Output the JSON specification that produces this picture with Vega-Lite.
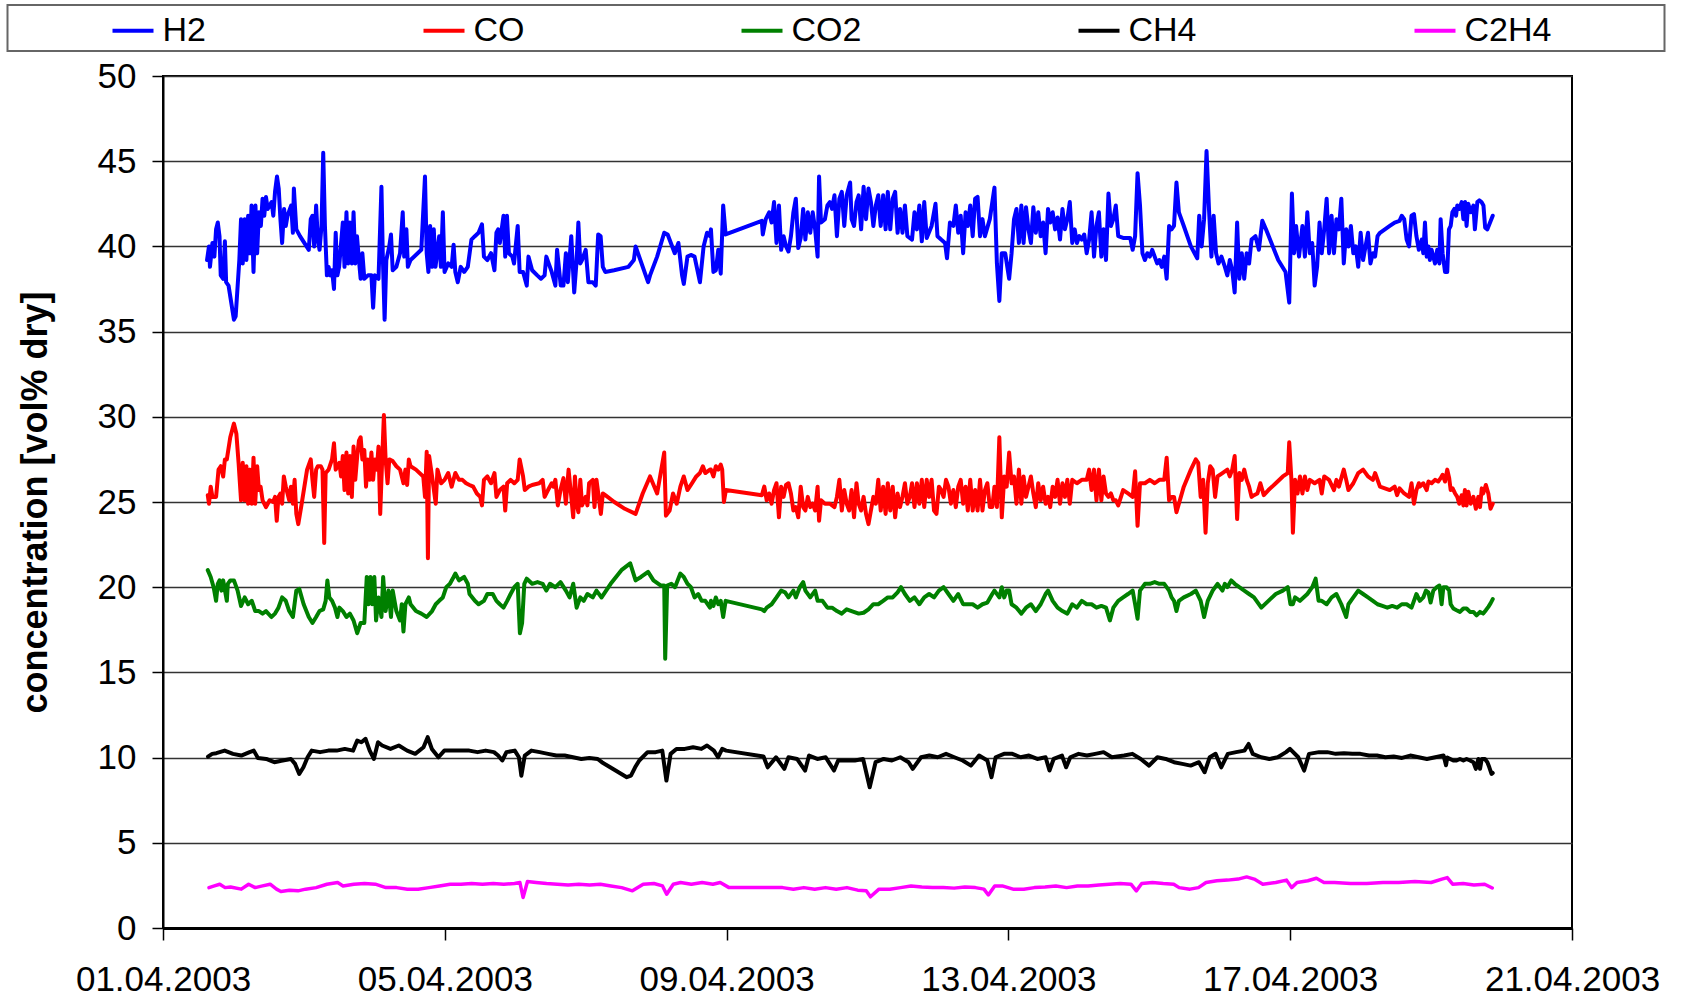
{
"$schema":"https://vega.github.io/schema/vega-lite/v6.json",
"width":1409,"height":852,
"autosize":{"type":"none"},
"padding":{"left":163,"top":76,"right":109,"bottom":74},
"background":"white",
"config":{"view":{"stroke":"black","strokeWidth":2},"font":"Liberation Sans","legend":{"strokeWidth":2}},
"datasets":{
"H2":[
{"t":"2003-04-01T15:00","v":39.2},{"t":"2003-04-01T15:40","v":40.0},{"t":"2003-04-01T16:00","v":38.8},{"t":"2003-04-01T16:50","v":40.2},{"t":"2003-04-01T17:30","v":39.4},{"t":"2003-04-01T18:05","v":41.0},{"t":"2003-04-01T18:40","v":41.4},{"t":"2003-04-01T19:15","v":40.6},{"t":"2003-04-01T19:40","v":38.3},{"t":"2003-04-01T20:30","v":38.1},{"t":"2003-04-01T21:05","v":40.3},{"t":"2003-04-01T21:30","v":37.9},{"t":"2003-04-01T22:20","v":37.7},{"t":"2003-04-02T00:10","v":35.7},{"t":"2003-04-02T00:45","v":35.9},{"t":"2003-04-02T02:00","v":39.2},{"t":"2003-04-02T02:35","v":41.6},{"t":"2003-04-02T03:10","v":39.0},{"t":"2003-04-02T03:50","v":41.6},{"t":"2003-04-02T04:25","v":39.2},{"t":"2003-04-02T05:00","v":41.8},{"t":"2003-04-02T05:35","v":39.6},{"t":"2003-04-02T06:10","v":42.4},{"t":"2003-04-02T06:50","v":38.5},{"t":"2003-04-02T07:30","v":42.4},{"t":"2003-04-02T08:05","v":39.6},{"t":"2003-04-02T08:40","v":42.0},{"t":"2003-04-02T09:20","v":41.2},{"t":"2003-04-02T09:55","v":42.8},{"t":"2003-04-02T10:30","v":41.8},{"t":"2003-04-02T11:05","v":42.9},{"t":"2003-04-02T11:40","v":42.2},{"t":"2003-04-02T13:00","v":42.6},{"t":"2003-04-02T13:35","v":41.8},{"t":"2003-04-02T14:10","v":43.2},{"t":"2003-04-02T14:50","v":44.1},{"t":"2003-04-02T15:25","v":43.4},{"t":"2003-04-02T16:00","v":41.6},{"t":"2003-04-02T16:35","v":40.2},{"t":"2003-04-02T17:15","v":42.2},{"t":"2003-04-02T17:50","v":41.2},{"t":"2003-04-02T18:25","v":41.8},{"t":"2003-04-02T19:40","v":42.4},{"t":"2003-04-02T20:15","v":40.8},{"t":"2003-04-02T20:35","v":43.4},{"t":"2003-04-02T21:25","v":41.0},{"t":"2003-04-02T22:40","v":40.6},{"t":"2003-04-03T01:40","v":39.8},{"t":"2003-04-03T02:20","v":41.6},{"t":"2003-04-03T02:55","v":41.8},{"t":"2003-04-03T03:30","v":40.0},{"t":"2003-04-03T04:10","v":42.4},{"t":"2003-04-03T04:45","v":40.4},{"t":"2003-04-03T05:20","v":39.8},{"t":"2003-04-03T06:00","v":41.2},{"t":"2003-04-03T06:35","v":45.5},{"t":"2003-04-03T07:10","v":41.2},{"t":"2003-04-03T07:50","v":38.3},{"t":"2003-04-03T08:25","v":38.8},{"t":"2003-04-03T09:00","v":38.3},{"t":"2003-04-03T09:35","v":38.6},{"t":"2003-04-03T10:15","v":37.5},{"t":"2003-04-03T10:50","v":40.8},{"t":"2003-04-03T11:25","v":38.3},{"t":"2003-04-03T12:00","v":38.8},{"t":"2003-04-03T13:15","v":41.4},{"t":"2003-04-03T13:50","v":38.8},{"t":"2003-04-03T14:30","v":42.0},{"t":"2003-04-03T15:05","v":39.0},{"t":"2003-04-03T15:40","v":41.4},{"t":"2003-04-03T16:20","v":39.0},{"t":"2003-04-03T16:55","v":42.0},{"t":"2003-04-03T17:30","v":39.0},{"t":"2003-04-03T18:05","v":40.6},{"t":"2003-04-03T18:45","v":39.2},{"t":"2003-04-03T19:20","v":38.1},{"t":"2003-04-03T19:55","v":39.6},{"t":"2003-04-03T20:35","v":38.1},{"t":"2003-04-03T21:50","v":38.3},{"t":"2003-04-03T23:00","v":38.3},{"t":"2003-04-03T23:35","v":36.4},{"t":"2003-04-04T00:10","v":38.3},{"t":"2003-04-04T01:25","v":38.1},{"t":"2003-04-04T02:25","v":43.5},{"t":"2003-04-04T02:55","v":39.2},{"t":"2003-04-04T03:30","v":35.7},{"t":"2003-04-04T04:05","v":39.2},{"t":"2003-04-04T05:05","v":40.0},{"t":"2003-04-04T05:40","v":40.7},{"t":"2003-04-04T06:15","v":38.6},{"t":"2003-04-04T07:30","v":38.8},{"t":"2003-04-04T08:45","v":39.6},{"t":"2003-04-04T09:40","v":42.0},{"t":"2003-04-04T10:10","v":39.4},{"t":"2003-04-04T10:55","v":41.0},{"t":"2003-04-04T11:25","v":38.8},{"t":"2003-04-04T12:20","v":39.2},{"t":"2003-04-04T16:00","v":39.8},{"t":"2003-04-04T17:15","v":44.1},{"t":"2003-04-04T17:50","v":39.6},{"t":"2003-04-04T18:25","v":38.5},{"t":"2003-04-04T19:00","v":41.2},{"t":"2003-04-04T19:40","v":38.8},{"t":"2003-04-04T20:15","v":41.0},{"t":"2003-04-04T20:50","v":38.8},{"t":"2003-04-04T22:05","v":40.6},{"t":"2003-04-04T22:40","v":38.8},{"t":"2003-04-04T23:20","v":42.0},{"t":"2003-04-04T23:55","v":38.5},{"t":"2003-04-05T01:10","v":39.0},{"t":"2003-04-05T02:20","v":38.8},{"t":"2003-04-05T03:00","v":40.1},{"t":"2003-04-05T03:35","v":38.5},{"t":"2003-04-05T04:25","v":37.9},{"t":"2003-04-05T05:25","v":38.8},{"t":"2003-04-05T06:35","v":38.5},{"t":"2003-04-05T07:50","v":38.8},{"t":"2003-04-05T09:05","v":40.4},{"t":"2003-04-05T10:15","v":40.6},{"t":"2003-04-05T11:30","v":40.8},{"t":"2003-04-05T12:40","v":41.3},{"t":"2003-04-05T13:20","v":39.4},{"t":"2003-04-05T14:30","v":39.2},{"t":"2003-04-05T15:45","v":39.6},{"t":"2003-04-05T16:55","v":38.6},{"t":"2003-04-05T17:35","v":40.8},{"t":"2003-04-05T18:10","v":41.0},{"t":"2003-04-05T18:45","v":40.2},{"t":"2003-04-05T20:00","v":41.8},{"t":"2003-04-05T20:35","v":39.4},{"t":"2003-04-05T21:10","v":41.8},{"t":"2003-04-05T21:50","v":39.6},{"t":"2003-04-05T23:00","v":39.4},{"t":"2003-04-05T23:35","v":39.0},{"t":"2003-04-06T00:50","v":41.2},{"t":"2003-04-06T01:30","v":38.5},{"t":"2003-04-06T02:40","v":38.5},{"t":"2003-04-06T03:55","v":37.7},{"t":"2003-04-06T04:30","v":39.4},{"t":"2003-04-06T05:45","v":38.6},{"t":"2003-04-06T07:30","v":38.3},{"t":"2003-04-06T08:45","v":38.1},{"t":"2003-04-06T10:00","v":38.3},{"t":"2003-04-06T10:35","v":39.4},{"t":"2003-04-06T12:25","v":38.5},{"t":"2003-04-06T13:40","v":37.7},{"t":"2003-04-06T14:15","v":39.8},{"t":"2003-04-06T15:30","v":37.7},{"t":"2003-04-06T16:25","v":37.7},{"t":"2003-04-06T17:15","v":39.6},{"t":"2003-04-06T17:55","v":37.9},{"t":"2003-04-06T19:05","v":40.6},{"t":"2003-04-06T20:05","v":37.3},{"t":"2003-04-06T20:55","v":39.2},{"t":"2003-04-06T21:30","v":41.4},{"t":"2003-04-06T22:10","v":39.0},{"t":"2003-04-06T22:45","v":39.2},{"t":"2003-04-07T00:00","v":39.8},{"t":"2003-04-07T00:55","v":37.9},{"t":"2003-04-07T02:25","v":37.9},{"t":"2003-04-07T03:25","v":37.7},{"t":"2003-04-07T04:15","v":40.7},{"t":"2003-04-07T05:05","v":40.6},{"t":"2003-04-07T05:50","v":38.8},{"t":"2003-04-07T06:40","v":38.5},{"t":"2003-04-07T09:40","v":38.6},{"t":"2003-04-07T14:35","v":38.8},{"t":"2003-04-07T16:25","v":39.2},{"t":"2003-04-07T17:00","v":40.0},{"t":"2003-04-07T21:15","v":37.9},{"t":"2003-04-07T21:55","v":38.3},{"t":"2003-04-08T00:20","v":39.4},{"t":"2003-04-08T02:45","v":40.8},{"t":"2003-04-08T03:55","v":40.7},{"t":"2003-04-08T06:20","v":39.6},{"t":"2003-04-08T07:35","v":40.2},{"t":"2003-04-08T08:50","v":38.3},{"t":"2003-04-08T09:25","v":37.8},{"t":"2003-04-08T10:40","v":39.4},{"t":"2003-04-08T11:50","v":39.5},{"t":"2003-04-08T13:05","v":39.4},{"t":"2003-04-08T14:55","v":37.9},{"t":"2003-04-08T16:10","v":40.0},{"t":"2003-04-08T17:20","v":40.8},{"t":"2003-04-08T18:20","v":40.6},
{"t":"2003-04-08T18:40","v":41.0},{"t":"2003-04-08T19:30","v":38.5},{"t":"2003-04-08T20:20","v":38.6},{"t":"2003-04-08T21:10","v":39.8},{"t":"2003-04-08T22:00","v":38.4},{"t":"2003-04-08T22:50","v":42.4},{"t":"2003-04-08T23:40","v":40.7},{"t":"2003-04-09T12:00","v":41.5},{"t":"2003-04-09T12:20","v":40.7},{"t":"2003-04-09T13:20","v":41.6},{"t":"2003-04-09T14:30","v":42.0},{"t":"2003-04-09T15:20","v":41.4},{"t":"2003-04-09T16:10","v":42.6},{"t":"2003-04-09T17:00","v":40.2},{"t":"2003-04-09T17:50","v":42.4},{"t":"2003-04-09T18:35","v":39.8},{"t":"2003-04-09T19:25","v":40.6},{"t":"2003-04-09T20:15","v":40.0},{"t":"2003-04-09T21:05","v":39.7},{"t":"2003-04-09T21:55","v":40.6},{"t":"2003-04-09T22:45","v":42.0},{"t":"2003-04-09T23:35","v":42.8},{"t":"2003-04-10T00:25","v":39.9},{"t":"2003-04-10T01:15","v":40.5},{"t":"2003-04-10T02:05","v":42.2},{"t":"2003-04-10T02:50","v":40.4},{"t":"2003-04-10T03:40","v":42.0},{"t":"2003-04-10T04:30","v":40.8},{"t":"2003-04-10T05:20","v":42.0},{"t":"2003-04-10T06:10","v":41.0},{"t":"2003-04-10T07:00","v":39.4},{"t":"2003-04-10T07:30","v":44.1},{"t":"2003-04-10T08:10","v":41.4},{"t":"2003-04-10T09:30","v":41.6},{"t":"2003-04-10T10:20","v":42.4},{"t":"2003-04-10T11:10","v":42.6},{"t":"2003-04-10T11:55","v":42.2},{"t":"2003-04-10T12:45","v":43.0},{"t":"2003-04-10T13:35","v":40.6},{"t":"2003-04-10T14:25","v":42.8},{"t":"2003-04-10T15:15","v":43.2},{"t":"2003-04-10T16:05","v":41.2},{"t":"2003-04-10T16:55","v":43.0},{"t":"2003-04-10T18:05","v":43.75},{"t":"2003-04-10T18:35","v":41.6},{"t":"2003-04-10T19:25","v":41.2},{"t":"2003-04-10T20:15","v":42.6},{"t":"2003-04-10T21:00","v":43.0},{"t":"2003-04-10T21:50","v":41.0},{"t":"2003-04-10T22:40","v":43.5},{"t":"2003-04-10T23:30","v":41.6},{"t":"2003-04-11T00:20","v":43.4},{"t":"2003-04-11T01:10","v":42.6},{"t":"2003-04-11T02:00","v":41.2},{"t":"2003-04-11T02:50","v":42.4},{"t":"2003-04-11T03:40","v":43.0},{"t":"2003-04-11T04:30","v":41.2},{"t":"2003-04-11T05:20","v":43.0},{"t":"2003-04-11T06:10","v":41.0},{"t":"2003-04-11T06:55","v":43.2},{"t":"2003-04-11T07:45","v":41.0},{"t":"2003-04-11T08:35","v":42.8},{"t":"2003-04-11T09:25","v":43.2},{"t":"2003-04-11T10:15","v":40.8},{"t":"2003-04-11T11:05","v":42.2},{"t":"2003-04-11T11:55","v":40.8},{"t":"2003-04-11T12:45","v":42.4},{"t":"2003-04-11T13:35","v":40.6},{"t":"2003-04-11T15:10","v":40.4},{"t":"2003-04-11T16:00","v":42.0},{"t":"2003-04-11T16:50","v":41.0},{"t":"2003-04-11T17:40","v":42.4},{"t":"2003-04-11T18:30","v":40.3},{"t":"2003-04-11T19:20","v":42.6},{"t":"2003-04-11T20:10","v":40.5},{"t":"2003-04-11T21:50","v":41.2},{"t":"2003-04-11T23:10","v":42.5},{"t":"2003-04-11T23:50","v":40.6},{"t":"2003-04-12T01:05","v":40.4},{"t":"2003-04-12T02:25","v":40.2},{"t":"2003-04-12T03:05","v":39.3},{"t":"2003-04-12T04:05","v":41.4},{"t":"2003-04-12T05:15","v":41.2},{"t":"2003-04-12T06:05","v":42.4},{"t":"2003-04-12T06:55","v":40.8},{"t":"2003-04-12T07:45","v":41.8},{"t":"2003-04-12T08:35","v":39.6},{"t":"2003-04-12T09:25","v":42.0},{"t":"2003-04-12T10:10","v":41.2},{"t":"2003-04-12T11:00","v":42.4},{"t":"2003-04-12T11:50","v":40.6},{"t":"2003-04-12T12:40","v":42.8},{"t":"2003-04-12T13:30","v":42.9},{"t":"2003-04-12T14:20","v":40.6},{"t":"2003-04-12T15:10","v":41.6},{"t":"2003-04-12T16:00","v":40.6},{"t":"2003-04-12T17:40","v":41.6},{"t":"2003-04-12T19:15","v":43.45},{"t":"2003-04-12T20:05","v":39.0},{"t":"2003-04-12T20:55","v":36.8},{"t":"2003-04-12T21:45","v":39.6},{"t":"2003-04-12T22:55","v":39.6},{"t":"2003-04-13T00:15","v":38.1},{"t":"2003-04-13T01:05","v":39.6},{"t":"2003-04-13T01:55","v":41.6},{"t":"2003-04-13T02:45","v":42.2},{"t":"2003-04-13T03:35","v":40.2},{"t":"2003-04-13T04:25","v":42.4},{"t":"2003-04-13T05:10","v":40.2},{"t":"2003-04-13T06:00","v":42.3},{"t":"2003-04-13T06:50","v":41.0},{"t":"2003-04-13T07:40","v":40.2},{"t":"2003-04-13T08:30","v":42.3},{"t":"2003-04-13T09:20","v":40.8},{"t":"2003-04-13T10:10","v":42.0},{"t":"2003-04-13T11:00","v":40.6},{"t":"2003-04-13T11:50","v":41.4},{"t":"2003-04-13T12:40","v":39.6},{"t":"2003-04-13T13:30","v":42.2},{"t":"2003-04-13T14:15","v":41.4},{"t":"2003-04-13T15:05","v":42.0},{"t":"2003-04-13T15:55","v":41.0},{"t":"2003-04-13T16:45","v":41.7},{"t":"2003-04-13T17:35","v":40.4},{"t":"2003-04-13T18:25","v":42.2},{"t":"2003-04-13T19:15","v":41.0},{"t":"2003-04-13T20:05","v":41.6},{"t":"2003-04-13T20:55","v":42.6},{"t":"2003-04-13T21:45","v":40.2},{"t":"2003-04-13T22:35","v":41.0},{"t":"2003-04-13T23:20","v":40.2},{"t":"2003-04-14T00:10","v":40.6},{"t":"2003-04-14T01:00","v":40.4},{"t":"2003-04-14T01:50","v":40.7},{"t":"2003-04-14T02:40","v":39.6},{"t":"2003-04-14T03:30","v":40.4},{"t":"2003-04-14T04:20","v":42.0},{"t":"2003-04-14T05:10","v":39.4},{"t":"2003-04-14T06:00","v":41.2},{"t":"2003-04-14T06:50","v":42.0},{"t":"2003-04-14T07:40","v":39.4},{"t":"2003-04-14T08:25","v":41.0},{"t":"2003-04-14T09:15","v":39.2},{"t":"2003-04-14T10:05","v":43.1},{"t":"2003-04-14T10:55","v":41.2},{"t":"2003-04-14T11:45","v":41.6},{"t":"2003-04-14T12:35","v":42.4},{"t":"2003-04-14T13:25","v":40.6},{"t":"2003-04-14T15:05","v":40.5},{"t":"2003-04-14T17:30","v":40.5},{"t":"2003-04-14T18:20","v":39.8},{"t":"2003-04-14T19:10","v":40.6},{"t":"2003-04-14T20:00","v":44.3},{"t":"2003-04-14T20:50","v":42.4},{"t":"2003-04-14T21:40","v":39.6},{"t":"2003-04-14T22:30","v":39.2},{"t":"2003-04-14T23:20","v":39.6},{"t":"2003-04-15T00:10","v":39.4},{"t":"2003-04-15T01:00","v":39.8},{"t":"2003-04-15T01:50","v":39.4},{"t":"2003-04-15T02:40","v":39.0},{"t":"2003-04-15T03:25","v":39.2},{"t":"2003-04-15T04:15","v":38.8},{"t":"2003-04-15T05:05","v":39.4},{"t":"2003-04-15T05:55","v":38.1},{"t":"2003-04-15T06:45","v":41.2},{"t":"2003-04-15T07:35","v":41.0},{"t":"2003-04-15T08:25","v":41.2},{"t":"2003-04-15T09:15","v":43.75},{"t":"2003-04-15T10:05","v":42.0},{"t":"2003-04-15T11:45","v":41.2},{"t":"2003-04-15T14:10","v":40.0},{"t":"2003-04-15T16:20","v":39.3},{"t":"2003-04-15T17:00","v":41.8},{"t":"2003-04-15T17:50","v":40.0},{"t":"2003-04-15T18:40","v":41.6},{"t":"2003-04-15T19:30","v":45.6},{"t":"2003-04-15T20:20","v":42.2},{"t":"2003-04-15T21:10","v":39.4},{"t":"2003-04-15T21:55","v":41.8},{"t":"2003-04-15T22:45","v":39.6},{"t":"2003-04-15T23:35","v":39.0},{"t":"2003-04-16T00:35","v":39.4},{"t":"2003-04-16T01:45","v":38.8},{"t":"2003-04-16T02:35","v":38.3},{"t":"2003-04-16T03:25","v":39.2},{"t":"2003-04-16T04:15","v":38.6},{"t":"2003-04-16T05:05","v":37.3},{"t":"2003-04-16T05:55","v":41.4},{"t":"2003-04-16T06:40","v":38.1},{"t":"2003-04-16T07:30","v":39.6},{"t":"2003-04-16T08:20","v":38.1},{"t":"2003-04-16T09:10","v":39.6},{"t":"2003-04-16T10:00","v":39.0},{"t":"2003-04-16T10:50","v":40.4},{"t":"2003-04-16T12:10","v":40.6},{"t":"2003-04-16T13:20","v":39.8},{"t":"2003-04-16T14:30","v":41.5},{"t":"2003-04-16T15:45","v":41.0},{"t":"2003-04-16T19:55","v":39.2},{"t":"2003-04-16T22:25","v":38.5},{"t":"2003-04-16T23:40","v":36.7},{"t":"2003-04-17T00:35","v":43.1},{"t":"2003-04-17T01:20","v":39.6},{"t":"2003-04-17T02:00","v":41.2},{"t":"2003-04-17T03:00","v":39.4},{"t":"2003-04-17T04:10","v":41.2},{"t":"2003-04-17T05:00","v":39.4},{"t":"2003-04-17T05:50","v":42.0},{"t":"2003-04-17T06:40","v":39.6},{"t":"2003-04-17T07:30","v":40.2},{"t":"2003-04-17T08:20","v":37.7},{"t":"2003-04-17T09:10","v":38.8},{"t":"2003-04-17T10:00","v":41.4},{"t":"2003-04-17T10:45","v":39.6},{"t":"2003-04-17T11:35","v":41.0},{"t":"2003-04-17T12:25","v":42.8},{"t":"2003-04-17T13:15","v":39.6},{"t":"2003-04-17T14:05","v":41.8},{"t":"2003-04-17T14:55","v":39.6},{"t":"2003-04-17T15:45","v":41.6},{"t":"2003-04-17T16:35","v":41.0},{"t":"2003-04-17T17:25","v":42.8},{"t":"2003-04-17T18:15","v":39.0},{"t":"2003-04-17T19:05","v":41.0},{"t":"2003-04-17T19:50","v":40.0},{"t":"2003-04-17T20:40","v":41.2},{"t":"2003-04-17T21:30","v":39.6},{"t":"2003-04-17T22:20","v":40.0},{"t":"2003-04-17T23:10","v":38.8},{"t":"2003-04-18T00:00","v":40.8},{"t":"2003-04-18T00:50","v":39.2},{"t":"2003-04-18T01:40","v":40.0},{"t":"2003-04-18T02:30","v":40.8},{"t":"2003-04-18T03:20","v":39.0},{"t":"2003-04-18T04:10","v":39.6},{"t":"2003-04-18T04:55","v":39.4},{"t":"2003-04-18T05:45","v":40.6},{"t":"2003-04-18T06:35","v":40.8},{"t":"2003-04-18T08:15","v":41.0},{"t":"2003-04-18T09:55","v":41.2},{"t":"2003-04-18T11:35","v":41.4},{"t":"2003-04-18T13:15","v":41.5},{"t":"2003-04-18T14:00","v":41.8},{"t":"2003-04-18T14:50","v":41.6},{"t":"2003-04-18T15:40","v":40.4},{"t":"2003-04-18T16:30","v":40.0},{"t":"2003-04-18T17:20","v":41.8},{"t":"2003-04-18T18:10","v":41.9},{"t":"2003-04-18T19:00","v":40.6},{"t":"2003-04-18T19:50","v":39.8},
{"t":"2003-04-18T20:50","v":40.4},{"t":"2003-04-18T21:20","v":39.6},{"t":"2003-04-18T21:55","v":41.4},{"t":"2003-04-18T22:30","v":39.4},{"t":"2003-04-18T23:05","v":40.0},{"t":"2003-04-18T23:35","v":39.2},{"t":"2003-04-19T00:10","v":39.8},{"t":"2003-04-19T00:45","v":39.4},{"t":"2003-04-19T01:20","v":39.0},{"t":"2003-04-19T02:05","v":39.8},{"t":"2003-04-19T02:50","v":39.0},{"t":"2003-04-19T03:15","v":41.6},{"t":"2003-04-19T03:55","v":39.6},{"t":"2003-04-19T04:45","v":38.5},{"t":"2003-04-19T05:30","v":38.5},{"t":"2003-04-19T06:05","v":41.0},{"t":"2003-04-19T06:40","v":41.2},{"t":"2003-04-19T07:15","v":42.0},{"t":"2003-04-19T07:55","v":42.2},{"t":"2003-04-19T08:30","v":41.8},{"t":"2003-04-19T08:55","v":42.4},{"t":"2003-04-19T09:35","v":42.2},{"t":"2003-04-19T10:25","v":42.6},{"t":"2003-04-19T11:00","v":41.6},{"t":"2003-04-19T11:35","v":42.6},{"t":"2003-04-19T12:05","v":41.2},{"t":"2003-04-19T12:40","v":42.5},{"t":"2003-04-19T13:30","v":42.0},{"t":"2003-04-19T14:25","v":42.4},{"t":"2003-04-19T14:55","v":41.0},{"t":"2003-04-19T15:45","v":42.6},{"t":"2003-04-19T16:25","v":42.7},{"t":"2003-04-19T17:10","v":42.6},{"t":"2003-04-19T17:50","v":42.4},{"t":"2003-04-19T18:25","v":41.1},{"t":"2003-04-19T19:10","v":41.0},{"t":"2003-04-19T20:05","v":41.4},{"t":"2003-04-19T21:00","v":41.8}
],
"CO":[
{"t":"2003-04-01T15:15","v":25.4},{"t":"2003-04-01T15:40","v":24.9},{"t":"2003-04-01T16:15","v":25.9},{"t":"2003-04-01T16:50","v":25.3},{"t":"2003-04-01T18:05","v":25.3},{"t":"2003-04-01T18:55","v":26.9},{"t":"2003-04-01T19:40","v":27.1},{"t":"2003-04-01T20:30","v":26.5},{"t":"2003-04-01T21:05","v":27.5},{"t":"2003-04-01T21:45","v":27.5},{"t":"2003-04-01T22:55","v":28.8},{"t":"2003-04-02T00:10","v":29.6},{"t":"2003-04-02T01:00","v":29.0},{"t":"2003-04-02T01:45","v":27.3},{"t":"2003-04-02T02:35","v":25.1},{"t":"2003-04-02T03:10","v":27.3},{"t":"2003-04-02T03:50","v":25.1},{"t":"2003-04-02T04:25","v":27.1},{"t":"2003-04-02T05:00","v":24.9},{"t":"2003-04-02T05:40","v":26.9},{"t":"2003-04-02T06:15","v":24.9},{"t":"2003-04-02T06:50","v":27.6},{"t":"2003-04-02T07:25","v":24.9},{"t":"2003-04-02T08:05","v":27.1},{"t":"2003-04-02T08:40","v":25.7},{"t":"2003-04-02T09:15","v":25.9},{"t":"2003-04-02T09:55","v":25.1},{"t":"2003-04-02T11:05","v":24.7},{"t":"2003-04-02T12:20","v":25.1},{"t":"2003-04-02T13:30","v":25.0},{"t":"2003-04-02T14:10","v":25.3},{"t":"2003-04-02T14:45","v":23.9},{"t":"2003-04-02T15:20","v":25.3},{"t":"2003-04-02T16:00","v":25.5},{"t":"2003-04-02T16:35","v":24.9},{"t":"2003-04-02T17:10","v":26.5},{"t":"2003-04-02T17:50","v":25.9},{"t":"2003-04-02T18:25","v":25.5},{"t":"2003-04-02T19:00","v":25.1},{"t":"2003-04-02T19:35","v":25.9},{"t":"2003-04-02T20:15","v":24.9},{"t":"2003-04-02T20:50","v":26.3},{"t":"2003-04-02T21:25","v":24.3},{"t":"2003-04-02T22:05","v":23.7},{"t":"2003-04-02T23:15","v":24.9},{"t":"2003-04-03T01:05","v":26.9},{"t":"2003-04-03T02:20","v":27.5},{"t":"2003-04-03T02:55","v":26.3},{"t":"2003-04-03T03:30","v":25.3},{"t":"2003-04-03T04:10","v":26.9},{"t":"2003-04-03T04:45","v":27.1},{"t":"2003-04-03T05:45","v":27.1},{"t":"2003-04-03T06:20","v":26.9},{"t":"2003-04-03T06:55","v":22.6},{"t":"2003-04-03T07:25","v":26.7},{"t":"2003-04-03T08:25","v":26.9},{"t":"2003-04-03T09:35","v":27.5},{"t":"2003-04-03T10:15","v":28.45},{"t":"2003-04-03T10:50","v":26.9},{"t":"2003-04-03T12:05","v":27.3},{"t":"2003-04-03T12:40","v":26.5},{"t":"2003-04-03T13:15","v":27.7},{"t":"2003-04-03T13:50","v":25.7},{"t":"2003-04-03T14:30","v":27.9},{"t":"2003-04-03T15:05","v":25.5},{"t":"2003-04-03T15:40","v":27.7},{"t":"2003-04-03T16:20","v":25.3},{"t":"2003-04-03T16:55","v":28.25},{"t":"2003-04-03T17:30","v":26.3},{"t":"2003-04-03T18:10","v":27.7},{"t":"2003-04-03T18:45","v":28.6},{"t":"2003-04-03T19:20","v":28.8},{"t":"2003-04-03T19:55","v":27.5},{"t":"2003-04-03T20:35","v":28.05},{"t":"2003-04-03T21:10","v":25.9},{"t":"2003-04-03T21:45","v":27.5},{"t":"2003-04-03T22:25","v":26.3},{"t":"2003-04-03T23:00","v":27.9},{"t":"2003-04-03T23:35","v":26.3},{"t":"2003-04-04T00:10","v":27.5},{"t":"2003-04-04T00:50","v":26.9},{"t":"2003-04-04T01:25","v":28.25},{"t":"2003-04-04T02:00","v":24.3},{"t":"2003-04-04T02:40","v":27.5},{"t":"2003-04-04T03:15","v":30.1},{"t":"2003-04-04T03:50","v":27.5},{"t":"2003-04-04T04:30","v":26.1},{"t":"2003-04-04T05:05","v":27.5},{"t":"2003-04-04T06:15","v":27.4},{"t":"2003-04-04T07:30","v":27.1},{"t":"2003-04-04T08:45","v":26.9},{"t":"2003-04-04T09:55","v":26.1},{"t":"2003-04-04T10:35","v":26.9},{"t":"2003-04-04T11:10","v":26.0},{"t":"2003-04-04T11:45","v":27.5},{"t":"2003-04-04T12:20","v":27.1},{"t":"2003-04-04T14:10","v":26.9},{"t":"2003-04-04T16:40","v":26.5},{"t":"2003-04-04T17:15","v":25.3},{"t":"2003-04-04T17:50","v":27.95},{"t":"2003-04-04T18:15","v":21.7},{"t":"2003-04-04T18:40","v":27.7},{"t":"2003-04-04T19:40","v":26.5},{"t":"2003-04-04T20:55","v":24.9},{"t":"2003-04-04T21:30","v":26.9},{"t":"2003-04-04T22:45","v":26.1},{"t":"2003-04-04T23:55","v":26.3},{"t":"2003-04-05T01:10","v":26.7},{"t":"2003-04-05T02:20","v":25.9},{"t":"2003-04-05T03:35","v":26.7},{"t":"2003-04-05T04:50","v":26.3},{"t":"2003-04-05T06:00","v":26.3},{"t":"2003-04-05T07:15","v":26.1},{"t":"2003-04-05T08:25","v":26.0},{"t":"2003-04-05T09:40","v":25.9},{"t":"2003-04-05T10:55","v":25.5},{"t":"2003-04-05T12:05","v":25.3},{"t":"2003-04-05T12:40","v":24.8},{"t":"2003-04-05T13:20","v":26.3},{"t":"2003-04-05T14:30","v":26.5},{"t":"2003-04-05T15:45","v":26.1},{"t":"2003-04-05T16:55","v":26.7},{"t":"2003-04-05T17:35","v":25.3},{"t":"2003-04-05T18:45","v":25.7},{"t":"2003-04-05T20:00","v":25.9},{"t":"2003-04-05T20:35","v":24.5},{"t":"2003-04-05T21:15","v":26.1},{"t":"2003-04-05T22:25","v":26.3},{"t":"2003-04-05T23:40","v":26.1},{"t":"2003-04-06T00:50","v":26.3},{"t":"2003-04-06T01:30","v":27.5},{"t":"2003-04-06T02:40","v":26.5},{"t":"2003-04-06T03:15","v":25.7},{"t":"2003-04-06T04:30","v":25.9},{"t":"2003-04-06T05:45","v":26.0},{"t":"2003-04-06T08:10","v":26.1},{"t":"2003-04-06T09:20","v":26.3},{"t":"2003-04-06T10:00","v":25.3},{"t":"2003-04-06T11:10","v":25.7},{"t":"2003-04-06T12:25","v":26.1},{"t":"2003-04-06T13:00","v":25.9},{"t":"2003-04-06T13:40","v":26.3},{"t":"2003-04-06T14:30","v":24.8},{"t":"2003-04-06T15:25","v":25.7},{"t":"2003-04-06T16:25","v":26.4},{"t":"2003-04-06T17:15","v":24.9},{"t":"2003-04-06T18:10","v":26.9},{"t":"2003-04-06T19:05","v":25.3},{"t":"2003-04-06T19:45","v":24.1},{"t":"2003-04-06T20:20","v":26.5},{"t":"2003-04-06T20:55","v":24.9},{"t":"2003-04-06T21:30","v":24.4},{"t":"2003-04-06T22:10","v":26.3},{"t":"2003-04-06T22:45","v":24.8},{"t":"2003-04-07T00:00","v":25.3},{"t":"2003-04-07T00:35","v":24.8},{"t":"2003-04-07T01:10","v":26.1},{"t":"2003-04-07T02:25","v":26.3},{"t":"2003-04-07T03:00","v":24.7},{"t":"2003-04-07T03:40","v":26.3},{"t":"2003-04-07T04:35","v":25.1},{"t":"2003-04-07T05:10","v":24.3},{"t":"2003-04-07T05:50","v":25.5},{"t":"2003-04-07T06:40","v":25.4},{"t":"2003-04-07T09:45","v":25.0},{"t":"2003-04-07T13:20","v":24.6},{"t":"2003-04-07T17:00","v":24.3},{"t":"2003-04-07T19:25","v":25.5},{"t":"2003-04-07T21:55","v":26.5},{"t":"2003-04-08T00:20","v":25.5},{"t":"2003-04-08T02:45","v":27.9},{"t":"2003-04-08T03:20","v":24.2},{"t":"2003-04-08T04:35","v":24.5},{"t":"2003-04-08T05:45","v":25.5},{"t":"2003-04-08T07:00","v":24.9},{"t":"2003-04-08T08:15","v":25.9},{"t":"2003-04-08T09:25","v":26.5},{"t":"2003-04-08T10:40","v":25.7},{"t":"2003-04-08T11:50","v":26.0},{"t":"2003-04-08T13:40","v":26.5},{"t":"2003-04-08T14:55","v":26.7},{"t":"2003-04-08T15:55","v":27.1},{"t":"2003-04-08T16:45","v":26.7},{"t":"2003-04-08T18:20","v":26.9},
{"t":"2003-04-08T18:40","v":26.9},{"t":"2003-04-08T19:30","v":26.5},{"t":"2003-04-08T20:20","v":27.1},{"t":"2003-04-08T21:10","v":26.9},{"t":"2003-04-08T22:00","v":27.2},{"t":"2003-04-08T22:30","v":26.9},{"t":"2003-04-08T23:05","v":25.0},{"t":"2003-04-08T23:45","v":25.7},{"t":"2003-04-09T12:00","v":25.4},{"t":"2003-04-09T12:50","v":25.9},{"t":"2003-04-09T13:40","v":25.1},{"t":"2003-04-09T14:30","v":25.5},{"t":"2003-04-09T15:20","v":24.9},{"t":"2003-04-09T16:10","v":25.7},{"t":"2003-04-09T17:00","v":26.1},{"t":"2003-04-09T17:50","v":24.1},{"t":"2003-04-09T18:35","v":25.9},{"t":"2003-04-09T19:25","v":25.3},{"t":"2003-04-09T20:15","v":26.0},{"t":"2003-04-09T21:05","v":26.1},{"t":"2003-04-09T21:55","v":25.5},{"t":"2003-04-09T22:45","v":24.5},{"t":"2003-04-09T23:35","v":24.7},{"t":"2003-04-10T00:25","v":24.1},{"t":"2003-04-10T01:15","v":25.9},{"t":"2003-04-10T02:05","v":24.7},{"t":"2003-04-10T02:50","v":24.5},{"t":"2003-04-10T03:40","v":25.3},{"t":"2003-04-10T04:30","v":24.7},{"t":"2003-04-10T05:20","v":24.9},{"t":"2003-04-10T06:10","v":24.5},{"t":"2003-04-10T07:00","v":25.9},{"t":"2003-04-10T07:30","v":23.9},{"t":"2003-04-10T08:10","v":25.1},{"t":"2003-04-10T09:30","v":24.9},{"t":"2003-04-10T11:10","v":24.9},{"t":"2003-04-10T12:45","v":24.7},{"t":"2003-04-10T13:35","v":25.3},{"t":"2003-04-10T14:25","v":26.3},{"t":"2003-04-10T15:15","v":24.5},{"t":"2003-04-10T16:05","v":25.7},{"t":"2003-04-10T16:55","v":24.9},{"t":"2003-04-10T17:45","v":24.5},{"t":"2003-04-10T18:35","v":25.7},{"t":"2003-04-10T19:25","v":24.1},{"t":"2003-04-10T20:15","v":26.1},{"t":"2003-04-10T21:00","v":24.9},{"t":"2003-04-10T21:50","v":24.5},{"t":"2003-04-10T22:40","v":25.3},{"t":"2003-04-10T23:30","v":24.3},{"t":"2003-04-11T00:20","v":23.7},{"t":"2003-04-11T01:10","v":24.5},{"t":"2003-04-11T02:00","v":25.3},{"t":"2003-04-11T02:50","v":24.9},{"t":"2003-04-11T03:40","v":26.3},{"t":"2003-04-11T04:30","v":24.5},{"t":"2003-04-11T05:20","v":25.9},{"t":"2003-04-11T06:10","v":24.3},{"t":"2003-04-11T06:55","v":26.1},{"t":"2003-04-11T07:45","v":24.5},{"t":"2003-04-11T08:35","v":25.9},{"t":"2003-04-11T09:25","v":24.1},{"t":"2003-04-11T10:15","v":25.5},{"t":"2003-04-11T11:05","v":24.7},{"t":"2003-04-11T11:55","v":25.3},{"t":"2003-04-11T12:45","v":26.1},{"t":"2003-04-11T13:35","v":24.9},{"t":"2003-04-11T14:25","v":25.3},{"t":"2003-04-11T15:10","v":26.1},{"t":"2003-04-11T16:00","v":24.7},{"t":"2003-04-11T16:50","v":26.1},{"t":"2003-04-11T17:40","v":24.9},{"t":"2003-04-11T18:30","v":26.3},{"t":"2003-04-11T19:20","v":24.7},{"t":"2003-04-11T20:10","v":26.3},{"t":"2003-04-11T21:00","v":25.3},{"t":"2003-04-11T21:50","v":26.3},{"t":"2003-04-11T22:40","v":24.5},{"t":"2003-04-11T23:30","v":24.3},{"t":"2003-04-12T00:20","v":25.9},{"t":"2003-04-12T01:05","v":25.7},{"t":"2003-04-12T01:55","v":25.3},{"t":"2003-04-12T02:45","v":26.3},{"t":"2003-04-12T03:35","v":25.9},{"t":"2003-04-12T04:25","v":24.9},{"t":"2003-04-12T05:15","v":25.7},{"t":"2003-04-12T06:05","v":24.7},{"t":"2003-04-12T06:55","v":25.9},{"t":"2003-04-12T07:45","v":26.3},{"t":"2003-04-12T08:35","v":24.9},{"t":"2003-04-12T09:25","v":25.9},{"t":"2003-04-12T10:10","v":24.5},{"t":"2003-04-12T11:00","v":26.3},{"t":"2003-04-12T11:50","v":24.5},{"t":"2003-04-12T12:40","v":25.7},{"t":"2003-04-12T13:30","v":24.5},{"t":"2003-04-12T14:20","v":26.3},{"t":"2003-04-12T15:10","v":24.5},{"t":"2003-04-12T16:00","v":25.7},{"t":"2003-04-12T16:50","v":26.1},{"t":"2003-04-12T17:40","v":24.7},{"t":"2003-04-12T18:30","v":24.7},{"t":"2003-04-12T19:15","v":25.9},{"t":"2003-04-12T20:05","v":24.7},{"t":"2003-04-12T20:55","v":28.8},{"t":"2003-04-12T21:45","v":24.1},{"t":"2003-04-12T22:35","v":26.5},{"t":"2003-04-12T23:25","v":25.9},{"t":"2003-04-13T00:15","v":27.9},{"t":"2003-04-13T01:05","v":26.1},{"t":"2003-04-13T01:55","v":26.5},{"t":"2003-04-13T02:45","v":24.9},{"t":"2003-04-13T03:35","v":26.9},{"t":"2003-04-13T04:25","v":24.9},{"t":"2003-04-13T05:10","v":26.5},{"t":"2003-04-13T06:00","v":25.3},{"t":"2003-04-13T06:50","v":25.9},{"t":"2003-04-13T07:40","v":26.5},{"t":"2003-04-13T08:30","v":25.5},{"t":"2003-04-13T09:20","v":24.7},{"t":"2003-04-13T10:10","v":26.1},{"t":"2003-04-13T11:00","v":25.1},{"t":"2003-04-13T11:50","v":25.9},{"t":"2003-04-13T12:40","v":24.9},{"t":"2003-04-13T13:30","v":25.3},{"t":"2003-04-13T14:15","v":24.7},{"t":"2003-04-13T15:05","v":25.9},{"t":"2003-04-13T15:55","v":25.3},{"t":"2003-04-13T16:45","v":26.3},{"t":"2003-04-13T17:35","v":24.9},{"t":"2003-04-13T18:25","v":26.1},{"t":"2003-04-13T19:15","v":25.3},{"t":"2003-04-13T20:05","v":26.3},{"t":"2003-04-13T20:55","v":24.9},{"t":"2003-04-13T21:45","v":26.3},{"t":"2003-04-13T23:20","v":26.1},{"t":"2003-04-14T01:00","v":26.3},{"t":"2003-04-14T02:40","v":26.3},{"t":"2003-04-14T03:30","v":26.9},{"t":"2003-04-14T04:20","v":25.7},{"t":"2003-04-14T05:10","v":26.9},{"t":"2003-04-14T06:00","v":25.1},{"t":"2003-04-14T06:50","v":26.9},{"t":"2003-04-14T07:40","v":25.1},{"t":"2003-04-14T08:25","v":26.5},{"t":"2003-04-14T09:15","v":25.5},{"t":"2003-04-14T10:05","v":25.3},{"t":"2003-04-14T10:55","v":25.5},{"t":"2003-04-14T11:45","v":25.1},{"t":"2003-04-14T12:35","v":25.1},{"t":"2003-04-14T13:25","v":24.8},{"t":"2003-04-14T15:05","v":25.7},{"t":"2003-04-14T16:45","v":25.5},{"t":"2003-04-14T18:20","v":25.3},{"t":"2003-04-14T19:10","v":26.8},{"t":"2003-04-14T20:00","v":23.6},{"t":"2003-04-14T20:50","v":26.1},{"t":"2003-04-14T22:30","v":26.1},{"t":"2003-04-15T00:10","v":26.3},{"t":"2003-04-15T01:50","v":26.1},{"t":"2003-04-15T03:25","v":26.3},{"t":"2003-04-15T05:05","v":26.3},{"t":"2003-04-15T05:55","v":27.6},{"t":"2003-04-15T06:45","v":25.1},{"t":"2003-04-15T07:35","v":25.3},{"t":"2003-04-15T08:25","v":25.3},{"t":"2003-04-15T09:15","v":24.4},{"t":"2003-04-15T11:45","v":25.9},{"t":"2003-04-15T14:10","v":26.9},{"t":"2003-04-15T15:50","v":27.5},{"t":"2003-04-15T16:40","v":27.3},{"t":"2003-04-15T17:30","v":25.3},{"t":"2003-04-15T18:20","v":26.3},{"t":"2003-04-15T19:10","v":23.2},{"t":"2003-04-15T19:55","v":26.1},{"t":"2003-04-15T20:45","v":27.1},{"t":"2003-04-15T21:35","v":26.9},{"t":"2003-04-15T22:25","v":25.3},{"t":"2003-04-15T23:15","v":26.5},{"t":"2003-04-16T00:55","v":26.7},{"t":"2003-04-16T02:35","v":26.9},{"t":"2003-04-16T03:25","v":26.5},{"t":"2003-04-16T04:15","v":26.9},{"t":"2003-04-16T05:05","v":27.7},{"t":"2003-04-16T05:55","v":24.0},{"t":"2003-04-16T06:40","v":26.7},{"t":"2003-04-16T07:30","v":26.3},{"t":"2003-04-16T08:20","v":26.9},{"t":"2003-04-16T09:10","v":26.3},{"t":"2003-04-16T10:00","v":25.9},{"t":"2003-04-16T10:50","v":25.3},{"t":"2003-04-16T11:40","v":25.4},{"t":"2003-04-16T12:50","v":25.5},{"t":"2003-04-16T13:50","v":26.1},{"t":"2003-04-16T15:00","v":25.4},{"t":"2003-04-16T16:35","v":25.7},{"t":"2003-04-16T19:05","v":26.1},{"t":"2003-04-16T21:30","v":26.5},{"t":"2003-04-16T23:10","v":26.7},{"t":"2003-04-16T23:40","v":28.5},{"t":"2003-04-17T00:25","v":26.3},{"t":"2003-04-17T00:55","v":23.2},{"t":"2003-04-17T01:40","v":26.3},{"t":"2003-04-17T02:30","v":25.5},{"t":"2003-04-17T03:20","v":26.5},{"t":"2003-04-17T04:10","v":25.5},{"t":"2003-04-17T05:00","v":26.5},{"t":"2003-04-17T05:50","v":25.7},{"t":"2003-04-17T06:40","v":26.3},{"t":"2003-04-17T08:20","v":26.1},{"t":"2003-04-17T10:00","v":26.3},{"t":"2003-04-17T10:45","v":25.5},{"t":"2003-04-17T11:35","v":26.5},{"t":"2003-04-17T13:15","v":26.3},{"t":"2003-04-17T14:55","v":25.7},{"t":"2003-04-17T15:45","v":26.3},{"t":"2003-04-17T16:35","v":25.9},{"t":"2003-04-17T18:15","v":26.9},{"t":"2003-04-17T19:05","v":26.3},{"t":"2003-04-17T19:50","v":25.7},{"t":"2003-04-17T21:30","v":26.1},{"t":"2003-04-17T23:10","v":26.7},{"t":"2003-04-18T00:50","v":26.9},{"t":"2003-04-18T02:30","v":26.5},{"t":"2003-04-18T04:10","v":26.3},{"t":"2003-04-18T04:55","v":26.7},{"t":"2003-04-18T06:35","v":25.9},{"t":"2003-04-18T08:15","v":25.8},{"t":"2003-04-18T09:55","v":25.7},{"t":"2003-04-18T11:35","v":25.9},{"t":"2003-04-18T12:25","v":25.4},{"t":"2003-04-18T13:15","v":25.8},{"t":"2003-04-18T14:50","v":25.5},{"t":"2003-04-18T16:30","v":25.3},{"t":"2003-04-18T17:20","v":26.1},{"t":"2003-04-18T18:10","v":24.9},{"t":"2003-04-18T19:00","v":25.7},{"t":"2003-04-18T19:50","v":26.1},
{"t":"2003-04-18T20:10","v":25.9},{"t":"2003-04-18T21:20","v":26.1},{"t":"2003-04-18T22:30","v":25.7},{"t":"2003-04-18T23:05","v":26.2},{"t":"2003-04-19T00:10","v":26.1},{"t":"2003-04-19T01:20","v":26.3},{"t":"2003-04-19T02:25","v":26.2},{"t":"2003-04-19T03:15","v":26.4},{"t":"2003-04-19T03:55","v":26.6},{"t":"2003-04-19T04:45","v":26.2},{"t":"2003-04-19T05:30","v":26.9},{"t":"2003-04-19T06:10","v":26.4},{"t":"2003-04-19T06:40","v":25.7},{"t":"2003-04-19T07:20","v":25.8},{"t":"2003-04-19T08:10","v":25.5},{"t":"2003-04-19T08:55","v":25.3},{"t":"2003-04-19T09:35","v":24.9},{"t":"2003-04-19T10:25","v":25.4},{"t":"2003-04-19T11:00","v":24.8},{"t":"2003-04-19T11:30","v":25.7},{"t":"2003-04-19T12:05","v":24.8},{"t":"2003-04-19T12:40","v":25.6},{"t":"2003-04-19T13:30","v":24.9},{"t":"2003-04-19T14:25","v":25.3},{"t":"2003-04-19T15:15","v":24.6},{"t":"2003-04-19T16:05","v":25.3},{"t":"2003-04-19T16:40","v":24.7},{"t":"2003-04-19T17:15","v":25.8},{"t":"2003-04-19T17:45","v":25.5},{"t":"2003-04-19T18:40","v":26.0},{"t":"2003-04-19T19:30","v":25.5},{"t":"2003-04-19T20:15","v":24.6},{"t":"2003-04-19T21:00","v":24.9}
],
"CO2":[
{"t":"2003-04-01T15:15","v":21.0},{"t":"2003-04-01T16:15","v":20.6},{"t":"2003-04-01T17:15","v":20.0},{"t":"2003-04-01T18:05","v":19.2},{"t":"2003-04-01T18:40","v":20.2},{"t":"2003-04-01T19:15","v":20.4},{"t":"2003-04-01T19:55","v":19.8},{"t":"2003-04-01T20:30","v":20.4},{"t":"2003-04-01T21:45","v":19.2},{"t":"2003-04-01T22:05","v":20.2},{"t":"2003-04-01T22:55","v":20.4},{"t":"2003-04-02T00:10","v":20.4},{"t":"2003-04-02T01:25","v":19.8},{"t":"2003-04-02T02:35","v":18.9},{"t":"2003-04-02T03:50","v":19.4},{"t":"2003-04-02T05:00","v":19.0},{"t":"2003-04-02T06:15","v":19.2},{"t":"2003-04-02T07:25","v":18.6},{"t":"2003-04-02T08:40","v":18.6},{"t":"2003-04-02T09:55","v":18.45},{"t":"2003-04-02T11:05","v":18.6},{"t":"2003-04-02T12:55","v":18.25},{"t":"2003-04-02T14:10","v":18.45},{"t":"2003-04-02T15:20","v":18.8},{"t":"2003-04-02T16:35","v":19.4},{"t":"2003-04-02T17:50","v":19.2},{"t":"2003-04-02T19:00","v":18.6},{"t":"2003-04-02T20:15","v":18.25},{"t":"2003-04-02T21:25","v":19.8},{"t":"2003-04-02T22:25","v":19.9},{"t":"2003-04-02T23:55","v":19.0},{"t":"2003-04-03T01:40","v":18.25},{"t":"2003-04-03T02:55","v":17.9},{"t":"2003-04-03T04:10","v":18.25},{"t":"2003-04-03T05:20","v":18.6},{"t":"2003-04-03T06:35","v":18.7},{"t":"2003-04-03T07:25","v":19.2},{"t":"2003-04-03T08:00","v":20.4},{"t":"2003-04-03T08:40","v":19.4},{"t":"2003-04-03T09:35","v":19.2},{"t":"2003-04-03T10:35","v":18.8},{"t":"2003-04-03T11:25","v":18.25},{"t":"2003-04-03T12:05","v":18.8},{"t":"2003-04-03T13:15","v":18.6},{"t":"2003-04-03T14:30","v":18.25},{"t":"2003-04-03T15:40","v":18.45},{"t":"2003-04-03T16:55","v":18.05},{"t":"2003-04-03T18:10","v":17.3},{"t":"2003-04-03T19:20","v":17.9},{"t":"2003-04-03T20:35","v":17.9},{"t":"2003-04-03T21:25","v":20.6},{"t":"2003-04-03T22:00","v":19.0},{"t":"2003-04-03T22:40","v":20.6},{"t":"2003-04-03T23:15","v":19.0},{"t":"2003-04-04T00:00","v":20.6},{"t":"2003-04-04T00:35","v":18.05},{"t":"2003-04-04T01:25","v":19.4},{"t":"2003-04-04T02:25","v":18.25},{"t":"2003-04-04T03:00","v":20.6},{"t":"2003-04-04T03:50","v":18.6},{"t":"2003-04-04T04:50","v":19.8},{"t":"2003-04-04T05:40","v":18.25},{"t":"2003-04-04T06:15","v":19.8},{"t":"2003-04-04T07:30","v":18.6},{"t":"2003-04-04T08:45","v":18.05},{"t":"2003-04-04T09:20","v":19.0},{"t":"2003-04-04T09:55","v":17.4},{"t":"2003-04-04T10:35","v":19.0},{"t":"2003-04-04T11:45","v":19.4},{"t":"2003-04-04T12:20","v":19.0},{"t":"2003-04-04T14:10","v":18.6},{"t":"2003-04-04T16:00","v":18.45},{"t":"2003-04-04T17:50","v":18.25},{"t":"2003-04-04T19:40","v":18.6},{"t":"2003-04-04T20:55","v":19.0},{"t":"2003-04-04T22:05","v":19.2},{"t":"2003-04-04T23:20","v":19.4},{"t":"2003-04-05T00:30","v":20.0},{"t":"2003-04-05T01:45","v":20.2},{"t":"2003-04-05T03:00","v":20.6},{"t":"2003-04-05T03:35","v":20.8},{"t":"2003-04-05T04:50","v":20.4},{"t":"2003-04-05T06:35","v":20.6},{"t":"2003-04-05T07:50","v":20.2},{"t":"2003-04-05T08:25","v":19.6},{"t":"2003-04-05T10:15","v":19.2},{"t":"2003-04-05T11:30","v":19.0},{"t":"2003-04-05T13:20","v":19.2},{"t":"2003-04-05T14:30","v":19.6},{"t":"2003-04-05T16:20","v":19.6},{"t":"2003-04-05T17:35","v":19.2},{"t":"2003-04-05T18:45","v":19.0},{"t":"2003-04-05T20:00","v":18.8},{"t":"2003-04-05T21:15","v":19.2},{"t":"2003-04-05T22:25","v":19.6},{"t":"2003-04-05T23:40","v":20.0},{"t":"2003-04-06T00:50","v":20.2},{"t":"2003-04-06T01:35","v":17.3},{"t":"2003-04-06T02:20","v":17.9},{"t":"2003-04-06T03:05","v":20.2},{"t":"2003-04-06T03:55","v":20.5},{"t":"2003-04-06T05:45","v":20.2},{"t":"2003-04-06T07:35","v":20.3},{"t":"2003-04-06T09:20","v":20.2},{"t":"2003-04-06T10:35","v":19.8},{"t":"2003-04-06T11:50","v":20.2},{"t":"2003-04-06T13:40","v":20.0},{"t":"2003-04-06T15:25","v":20.3},{"t":"2003-04-06T17:15","v":19.8},{"t":"2003-04-06T18:30","v":19.4},{"t":"2003-04-06T19:45","v":20.2},{"t":"2003-04-06T20:55","v":18.8},{"t":"2003-04-06T22:10","v":19.4},{"t":"2003-04-06T23:20","v":19.2},{"t":"2003-04-07T00:35","v":19.6},{"t":"2003-04-07T02:25","v":19.4},{"t":"2003-04-07T03:40","v":19.8},{"t":"2003-04-07T05:25","v":19.4},{"t":"2003-04-07T08:30","v":20.2},{"t":"2003-04-07T12:10","v":21.0},{"t":"2003-04-07T15:10","v":21.4},{"t":"2003-04-07T17:00","v":20.4},{"t":"2003-04-07T18:50","v":20.6},{"t":"2003-04-07T21:15","v":20.9},{"t":"2003-04-07T23:05","v":20.4},{"t":"2003-04-08T01:30","v":20.1},{"t":"2003-04-08T02:45","v":20.1},{"t":"2003-04-08T03:05","v":15.8},{"t":"2003-04-08T03:45","v":20.1},{"t":"2003-04-08T05:10","v":20.2},{"t":"2003-04-08T06:25","v":20.0},{"t":"2003-04-08T08:15","v":20.8},{"t":"2003-04-08T09:25","v":20.6},{"t":"2003-04-08T10:40","v":20.2},{"t":"2003-04-08T11:50","v":20.0},{"t":"2003-04-08T13:05","v":19.4},{"t":"2003-04-08T14:20","v":19.6},{"t":"2003-04-08T15:30","v":19.2},{"t":"2003-04-08T16:45","v":19.2},{"t":"2003-04-08T18:20","v":18.8},
{"t":"2003-04-08T18:40","v":19.2},{"t":"2003-04-08T19:30","v":18.9},{"t":"2003-04-08T20:20","v":19.4},{"t":"2003-04-08T21:10","v":19.0},{"t":"2003-04-08T22:00","v":19.2},{"t":"2003-04-08T22:50","v":18.25},{"t":"2003-04-08T23:40","v":19.2},{"t":"2003-04-09T12:00","v":18.7},{"t":"2003-04-09T12:50","v":18.6},{"t":"2003-04-09T13:40","v":18.8},{"t":"2003-04-09T15:20","v":19.0},{"t":"2003-04-09T17:00","v":19.4},{"t":"2003-04-09T18:35","v":19.8},{"t":"2003-04-09T19:55","v":19.7},{"t":"2003-04-09T21:05","v":19.4},{"t":"2003-04-09T22:45","v":19.8},{"t":"2003-04-09T23:35","v":19.4},{"t":"2003-04-10T00:55","v":20.0},{"t":"2003-04-10T02:05","v":20.3},{"t":"2003-04-10T02:50","v":19.8},{"t":"2003-04-10T04:30","v":19.4},{"t":"2003-04-10T06:10","v":19.8},{"t":"2003-04-10T07:00","v":19.2},{"t":"2003-04-10T08:40","v":19.2},{"t":"2003-04-10T10:20","v":18.8},{"t":"2003-04-10T11:55","v":18.8},{"t":"2003-04-10T13:35","v":18.6},{"t":"2003-04-10T15:15","v":18.45},{"t":"2003-04-10T16:55","v":18.7},{"t":"2003-04-10T18:35","v":18.6},{"t":"2003-04-10T21:00","v":18.45},{"t":"2003-04-10T22:40","v":18.5},{"t":"2003-04-11T00:20","v":18.7},{"t":"2003-04-11T02:00","v":19.0},{"t":"2003-04-11T03:40","v":19.0},{"t":"2003-04-11T05:20","v":19.2},{"t":"2003-04-11T06:55","v":19.4},{"t":"2003-04-11T08:35","v":19.4},{"t":"2003-04-11T10:15","v":19.7},{"t":"2003-04-11T11:25","v":20.0},{"t":"2003-04-11T12:45","v":19.6},{"t":"2003-04-11T14:25","v":19.2},{"t":"2003-04-11T16:00","v":19.4},{"t":"2003-04-11T17:40","v":19.0},{"t":"2003-04-11T19:20","v":19.4},{"t":"2003-04-11T21:00","v":19.6},{"t":"2003-04-11T22:40","v":19.4},{"t":"2003-04-12T00:20","v":19.8},{"t":"2003-04-12T01:55","v":20.0},{"t":"2003-04-12T03:35","v":19.6},{"t":"2003-04-12T05:15","v":19.2},{"t":"2003-04-12T06:55","v":19.6},{"t":"2003-04-12T08:35","v":19.0},{"t":"2003-04-12T10:10","v":19.0},{"t":"2003-04-12T11:50","v":19.0},{"t":"2003-04-12T13:30","v":18.8},{"t":"2003-04-12T15:10","v":19.0},{"t":"2003-04-12T16:50","v":19.1},{"t":"2003-04-12T18:30","v":19.6},{"t":"2003-04-12T19:15","v":19.8},{"t":"2003-04-12T20:55","v":19.4},{"t":"2003-04-12T21:45","v":20.0},{"t":"2003-04-12T22:35","v":19.4},{"t":"2003-04-12T23:25","v":19.8},{"t":"2003-04-13T00:15","v":19.8},{"t":"2003-04-13T01:05","v":19.0},{"t":"2003-04-13T02:45","v":18.8},{"t":"2003-04-13T04:25","v":18.45},{"t":"2003-04-13T06:00","v":18.8},{"t":"2003-04-13T07:40","v":19.0},{"t":"2003-04-13T09:20","v":18.6},{"t":"2003-04-13T11:00","v":19.0},{"t":"2003-04-13T12:40","v":19.6},{"t":"2003-04-13T13:30","v":19.8},{"t":"2003-04-13T15:05","v":19.2},{"t":"2003-04-13T16:45","v":18.8},{"t":"2003-04-13T18:25","v":18.6},{"t":"2003-04-13T20:05","v":18.45},{"t":"2003-04-13T21:45","v":19.0},{"t":"2003-04-13T23:20","v":18.8},{"t":"2003-04-14T01:00","v":19.2},{"t":"2003-04-14T02:40","v":19.0},{"t":"2003-04-14T04:20","v":19.0},{"t":"2003-04-14T06:00","v":18.8},{"t":"2003-04-14T07:40","v":18.9},{"t":"2003-04-14T09:15","v":18.8},{"t":"2003-04-14T10:35","v":18.05},{"t":"2003-04-14T11:45","v":18.8},{"t":"2003-04-14T13:25","v":19.2},{"t":"2003-04-14T15:05","v":19.4},{"t":"2003-04-14T16:45","v":19.6},{"t":"2003-04-14T18:20","v":19.8},{"t":"2003-04-14T19:10","v":19.0},{"t":"2003-04-14T20:00","v":18.15},{"t":"2003-04-14T20:50","v":19.8},{"t":"2003-04-14T22:30","v":20.2},{"t":"2003-04-15T00:10","v":20.2},{"t":"2003-04-15T01:50","v":20.3},{"t":"2003-04-15T03:25","v":20.2},{"t":"2003-04-15T05:05","v":20.2},{"t":"2003-04-15T06:45","v":19.8},{"t":"2003-04-15T07:35","v":19.4},{"t":"2003-04-15T08:25","v":19.2},{"t":"2003-04-15T09:15","v":18.6},{"t":"2003-04-15T10:05","v":19.2},{"t":"2003-04-15T11:45","v":19.4},{"t":"2003-04-15T14:10","v":19.6},{"t":"2003-04-15T15:50","v":19.8},{"t":"2003-04-15T17:30","v":19.2},{"t":"2003-04-15T18:40","v":18.25},{"t":"2003-04-15T19:55","v":19.2},{"t":"2003-04-15T21:35","v":19.8},{"t":"2003-04-15T23:15","v":20.2},{"t":"2003-04-16T00:55","v":19.8},{"t":"2003-04-16T01:45","v":20.2},{"t":"2003-04-16T02:35","v":20.0},{"t":"2003-04-16T03:55","v":20.4},{"t":"2003-04-16T05:05","v":20.2},{"t":"2003-04-16T06:40","v":20.0},{"t":"2003-04-16T08:20","v":19.8},{"t":"2003-04-16T10:00","v":19.6},{"t":"2003-04-16T11:40","v":19.4},{"t":"2003-04-16T14:10","v":18.8},{"t":"2003-04-16T16:35","v":19.2},{"t":"2003-04-16T19:05","v":19.6},{"t":"2003-04-16T21:30","v":19.8},{"t":"2003-04-16T23:10","v":20.0},{"t":"2003-04-17T00:05","v":19.0},{"t":"2003-04-17T00:55","v":19.0},{"t":"2003-04-17T01:40","v":19.4},{"t":"2003-04-17T03:20","v":19.2},{"t":"2003-04-17T05:50","v":19.6},{"t":"2003-04-17T07:30","v":20.0},{"t":"2003-04-17T08:40","v":20.5},{"t":"2003-04-17T09:40","v":19.2},{"t":"2003-04-17T10:45","v":19.2},{"t":"2003-04-17T12:25","v":19.0},{"t":"2003-04-17T14:05","v":19.4},{"t":"2003-04-17T15:45","v":19.6},{"t":"2003-04-17T17:25","v":19.0},{"t":"2003-04-17T19:05","v":18.25},{"t":"2003-04-17T19:50","v":19.0},{"t":"2003-04-17T21:30","v":19.4},{"t":"2003-04-17T23:10","v":19.8},{"t":"2003-04-18T00:50","v":19.6},{"t":"2003-04-18T02:30","v":19.4},{"t":"2003-04-18T04:10","v":19.2},{"t":"2003-04-18T05:45","v":19.0},{"t":"2003-04-18T07:25","v":18.9},{"t":"2003-04-18T09:05","v":18.8},{"t":"2003-04-18T10:45","v":18.9},{"t":"2003-04-18T12:25","v":18.8},{"t":"2003-04-18T14:00","v":19.0},{"t":"2003-04-18T15:40","v":19.0},{"t":"2003-04-18T17:20","v":18.8},{"t":"2003-04-18T19:00","v":19.6},
{"t":"2003-04-18T20:10","v":19.2},{"t":"2003-04-18T21:20","v":19.4},{"t":"2003-04-18T22:15","v":19.8},{"t":"2003-04-18T23:05","v":19.7},{"t":"2003-04-18T23:50","v":19.1},{"t":"2003-04-19T00:45","v":19.8},{"t":"2003-04-19T01:55","v":20.0},{"t":"2003-04-19T02:50","v":20.1},{"t":"2003-04-19T03:35","v":19.0},{"t":"2003-04-19T04:10","v":20.0},{"t":"2003-04-19T05:15","v":20.0},{"t":"2003-04-19T06:10","v":19.8},{"t":"2003-04-19T06:40","v":19.0},{"t":"2003-04-19T07:35","v":18.75},{"t":"2003-04-19T08:40","v":18.65},{"t":"2003-04-19T09:50","v":18.55},{"t":"2003-04-19T11:00","v":18.75},{"t":"2003-04-19T12:05","v":18.75},{"t":"2003-04-19T13:15","v":18.55},{"t":"2003-04-19T14:25","v":18.55},{"t":"2003-04-19T15:30","v":18.35},{"t":"2003-04-19T16:40","v":18.55},{"t":"2003-04-19T17:45","v":18.45},{"t":"2003-04-19T18:40","v":18.65},{"t":"2003-04-19T19:30","v":18.85},{"t":"2003-04-19T20:15","v":19.05},{"t":"2003-04-19T21:00","v":19.3}
],
"CH4":[
{"t":"2003-04-01T15:20","v":10.06},{"t":"2003-04-01T16:45","v":10.22},{"t":"2003-04-01T18:10","v":10.26},{"t":"2003-04-01T21:00","v":10.41},{"t":"2003-04-01T23:50","v":10.22},{"t":"2003-04-02T02:40","v":10.12},{"t":"2003-04-02T05:30","v":10.32},{"t":"2003-04-02T06:55","v":10.41},{"t":"2003-04-02T08:20","v":9.98},{"t":"2003-04-02T11:10","v":9.92},{"t":"2003-04-02T13:55","v":9.73},{"t":"2003-04-02T16:45","v":9.83},{"t":"2003-04-02T19:35","v":9.92},{"t":"2003-04-02T21:00","v":9.63},{"t":"2003-04-02T22:25","v":9.04},{"t":"2003-04-02T23:50","v":9.43},{"t":"2003-04-03T01:15","v":10.02},{"t":"2003-04-03T02:40","v":10.41},{"t":"2003-04-03T05:30","v":10.32},{"t":"2003-04-03T08:20","v":10.41},{"t":"2003-04-03T11:10","v":10.41},{"t":"2003-04-03T13:55","v":10.51},{"t":"2003-04-03T16:45","v":10.41},{"t":"2003-04-03T18:10","v":11.0},{"t":"2003-04-03T19:35","v":10.9},{"t":"2003-04-03T21:00","v":11.1},{"t":"2003-04-03T22:25","v":10.41},{"t":"2003-04-03T23:50","v":9.92},{"t":"2003-04-04T01:15","v":10.9},{"t":"2003-04-04T02:40","v":10.71},{"t":"2003-04-04T05:30","v":10.51},{"t":"2003-04-04T08:20","v":10.71},{"t":"2003-04-04T11:10","v":10.41},{"t":"2003-04-04T13:55","v":10.22},{"t":"2003-04-04T16:45","v":10.61},{"t":"2003-04-04T18:10","v":11.2},{"t":"2003-04-04T19:35","v":10.51},{"t":"2003-04-04T21:50","v":10.02},{"t":"2003-04-04T23:50","v":10.41},{"t":"2003-04-05T02:40","v":10.41},{"t":"2003-04-05T05:30","v":10.41},{"t":"2003-04-05T08:20","v":10.41},{"t":"2003-04-05T11:10","v":10.32},{"t":"2003-04-05T13:55","v":10.41},{"t":"2003-04-05T16:45","v":10.32},{"t":"2003-04-05T18:10","v":10.12},{"t":"2003-04-05T19:35","v":9.83},{"t":"2003-04-05T21:00","v":10.32},{"t":"2003-04-05T23:50","v":10.41},{"t":"2003-04-06T01:15","v":10.02},{"t":"2003-04-06T02:05","v":8.94},{"t":"2003-04-06T03:15","v":10.12},{"t":"2003-04-06T05:30","v":10.41},{"t":"2003-04-06T08:20","v":10.32},{"t":"2003-04-06T11:10","v":10.22},{"t":"2003-04-06T14:00","v":10.12},{"t":"2003-04-06T16:50","v":10.12},{"t":"2003-04-06T19:40","v":10.02},{"t":"2003-04-06T22:30","v":9.92},{"t":"2003-04-07T01:15","v":9.98},{"t":"2003-04-07T04:05","v":9.92},{"t":"2003-04-07T05:30","v":9.73},{"t":"2003-04-07T08:20","v":9.43},{"t":"2003-04-07T11:10","v":9.14},{"t":"2003-04-07T14:00","v":8.85},{"t":"2003-04-07T15:25","v":8.94},{"t":"2003-04-07T16:50","v":9.43},{"t":"2003-04-07T18:15","v":9.83},{"t":"2003-04-07T21:05","v":10.32},{"t":"2003-04-07T23:50","v":10.32},{"t":"2003-04-08T02:05","v":10.41},{"t":"2003-04-08T03:30","v":8.65},{"t":"2003-04-08T04:55","v":10.22},{"t":"2003-04-08T06:55","v":10.51},{"t":"2003-04-08T09:45","v":10.51},{"t":"2003-04-08T12:35","v":10.61},{"t":"2003-04-08T15:25","v":10.51},{"t":"2003-04-08T17:20","v":10.71},{"t":"2003-04-08T19:40","v":10.41},{"t":"2003-04-08T21:05","v":10.02},{"t":"2003-04-08T22:30","v":10.51},{"t":"2003-04-08T23:50","v":10.41},{"t":"2003-04-09T12:35","v":10.06},{"t":"2003-04-09T14:00","v":9.43},{"t":"2003-04-09T16:50","v":10.02},{"t":"2003-04-09T19:40","v":9.34},{"t":"2003-04-09T21:05","v":10.02},{"t":"2003-04-10T00:00","v":9.92},{"t":"2003-04-10T02:45","v":9.24},{"t":"2003-04-10T04:05","v":10.12},{"t":"2003-04-10T06:55","v":9.92},{"t":"2003-04-10T09:45","v":10.02},{"t":"2003-04-10T12:35","v":9.24},{"t":"2003-04-10T14:00","v":9.83},{"t":"2003-04-10T16:50","v":9.83},{"t":"2003-04-10T19:40","v":9.83},{"t":"2003-04-10T22:30","v":9.92},{"t":"2003-04-11T00:45","v":8.26},{"t":"2003-04-11T02:45","v":9.73},{"t":"2003-04-11T05:30","v":9.92},{"t":"2003-04-11T08:20","v":9.83},{"t":"2003-04-11T11:10","v":10.02},{"t":"2003-04-11T14:00","v":9.73},{"t":"2003-04-11T15:25","v":9.34},{"t":"2003-04-11T18:15","v":10.02},{"t":"2003-04-11T21:05","v":10.12},{"t":"2003-04-11T23:55","v":10.02},{"t":"2003-04-12T02:45","v":10.22},{"t":"2003-04-12T05:35","v":10.02},{"t":"2003-04-12T08:25","v":9.83},{"t":"2003-04-12T11:15","v":9.53},{"t":"2003-04-12T14:00","v":10.12},{"t":"2003-04-12T16:50","v":9.83},{"t":"2003-04-12T18:15","v":8.85},{"t":"2003-04-12T19:40","v":10.02},{"t":"2003-04-12T22:30","v":10.22},{"t":"2003-04-13T01:20","v":10.22},{"t":"2003-04-13T04:10","v":10.02},{"t":"2003-04-13T07:00","v":10.12},{"t":"2003-04-13T09:50","v":9.92},{"t":"2003-04-13T12:40","v":10.02},{"t":"2003-04-13T14:00","v":9.24},{"t":"2003-04-13T15:25","v":9.92},{"t":"2003-04-13T18:15","v":10.12},{"t":"2003-04-13T19:40","v":9.43},{"t":"2003-04-13T21:05","v":10.02},{"t":"2003-04-13T23:55","v":10.22},{"t":"2003-04-14T02:45","v":10.12},{"t":"2003-04-14T05:35","v":10.22},{"t":"2003-04-14T08:25","v":10.32},{"t":"2003-04-14T11:15","v":10.02},{"t":"2003-04-14T15:25","v":10.12},{"t":"2003-04-14T18:15","v":10.22},{"t":"2003-04-14T21:05","v":9.92},{"t":"2003-04-14T23:55","v":9.53},{"t":"2003-04-15T02:45","v":10.02},{"t":"2003-04-15T05:35","v":9.92},{"t":"2003-04-15T08:25","v":9.73},{"t":"2003-04-15T11:15","v":9.63},{"t":"2003-04-15T14:05","v":9.53},{"t":"2003-04-15T16:55","v":9.73},{"t":"2003-04-15T18:50","v":9.14},{"t":"2003-04-15T20:35","v":10.02},{"t":"2003-04-15T22:35","v":10.22},{"t":"2003-04-16T00:30","v":9.43},{"t":"2003-04-16T02:45","v":10.22},{"t":"2003-04-16T05:35","v":10.32},{"t":"2003-04-16T08:25","v":10.41},{"t":"2003-04-16T09:50","v":10.8},{"t":"2003-04-16T11:15","v":10.22},{"t":"2003-04-16T14:05","v":10.02},{"t":"2003-04-16T16:55","v":9.92},{"t":"2003-04-16T19:45","v":10.02},{"t":"2003-04-16T22:35","v":10.32},{"t":"2003-04-16T23:55","v":10.51},{"t":"2003-04-17T02:45","v":10.02},{"t":"2003-04-17T04:45","v":9.24},{"t":"2003-04-17T06:25","v":10.22},{"t":"2003-04-17T09:50","v":10.32},{"t":"2003-04-17T12:40","v":10.32},{"t":"2003-04-17T15:30","v":10.22},{"t":"2003-04-17T18:20","v":10.26},{"t":"2003-04-17T21:10","v":10.22},{"t":"2003-04-17T23:55","v":10.22},{"t":"2003-04-18T02:50","v":10.12},{"t":"2003-04-18T05:35","v":10.12},{"t":"2003-04-18T08:25","v":10.02},{"t":"2003-04-18T11:15","v":10.06},{"t":"2003-04-18T14:05","v":9.98},{"t":"2003-04-18T16:55","v":10.12},{"t":"2003-04-18T19:45","v":10.02},{"t":"2003-04-18T22:35","v":9.92},{"t":"2003-04-19T01:25","v":10.02},{"t":"2003-04-19T04:15","v":10.12},{"t":"2003-04-19T05:05","v":9.55},{"t":"2003-04-19T05:30","v":10.0},{"t":"2003-04-19T07:35","v":9.83},{"t":"2003-04-19T08:40","v":9.83},{"t":"2003-04-19T09:50","v":9.92},{"t":"2003-04-19T11:00","v":9.83},{"t":"2003-04-19T12:05","v":9.92},{"t":"2003-04-19T13:15","v":9.83},{"t":"2003-04-19T14:25","v":9.73},{"t":"2003-04-19T15:15","v":9.34},{"t":"2003-04-19T16:05","v":9.92},{"t":"2003-04-19T16:40","v":9.34},{"t":"2003-04-19T17:15","v":9.92},{"t":"2003-04-19T18:20","v":9.92},{"t":"2003-04-19T19:10","v":9.73},{"t":"2003-04-19T19:50","v":9.43},{"t":"2003-04-19T20:35","v":9.04},{"t":"2003-04-19T21:00","v":9.1}
],
"C2H4":[
{"t":"2003-04-01T15:40","v":2.37},{"t":"2003-04-01T17:30","v":2.47},{"t":"2003-04-01T19:20","v":2.57},{"t":"2003-04-01T21:10","v":2.37},{"t":"2003-04-01T23:00","v":2.41},{"t":"2003-04-02T02:40","v":2.28},{"t":"2003-04-02T05:10","v":2.57},{"t":"2003-04-02T07:25","v":2.37},{"t":"2003-04-02T09:55","v":2.47},{"t":"2003-04-02T12:30","v":2.57},{"t":"2003-04-02T14:40","v":2.28},{"t":"2003-04-02T16:10","v":2.14},{"t":"2003-04-02T19:05","v":2.22},{"t":"2003-04-02T22:00","v":2.18},{"t":"2003-04-03T00:35","v":2.28},{"t":"2003-04-03T04:10","v":2.37},{"t":"2003-04-03T07:50","v":2.57},{"t":"2003-04-03T11:30","v":2.67},{"t":"2003-04-03T13:20","v":2.47},{"t":"2003-04-03T17:00","v":2.57},{"t":"2003-04-03T20:40","v":2.61},{"t":"2003-04-04T00:20","v":2.57},{"t":"2003-04-04T03:55","v":2.37},{"t":"2003-04-04T07:35","v":2.37},{"t":"2003-04-04T11:15","v":2.28},{"t":"2003-04-04T14:55","v":2.28},{"t":"2003-04-04T18:35","v":2.37},{"t":"2003-04-04T22:10","v":2.47},{"t":"2003-04-05T01:50","v":2.57},{"t":"2003-04-05T05:30","v":2.57},{"t":"2003-04-05T09:10","v":2.61},{"t":"2003-04-05T12:50","v":2.57},{"t":"2003-04-05T16:30","v":2.61},{"t":"2003-04-05T20:05","v":2.57},{"t":"2003-04-05T23:45","v":2.61},{"t":"2003-04-06T01:35","v":2.67},{"t":"2003-04-06T02:40","v":1.79},{"t":"2003-04-06T04:10","v":2.73},{"t":"2003-04-06T07:05","v":2.67},{"t":"2003-04-06T10:40","v":2.61},{"t":"2003-04-06T14:20","v":2.57},{"t":"2003-04-06T18:00","v":2.53},{"t":"2003-04-06T21:40","v":2.57},{"t":"2003-04-07T01:20","v":2.53},{"t":"2003-04-07T05:00","v":2.57},{"t":"2003-04-07T08:35","v":2.47},{"t":"2003-04-07T12:15","v":2.37},{"t":"2003-04-07T15:55","v":2.18},{"t":"2003-04-07T19:35","v":2.57},{"t":"2003-04-07T23:15","v":2.61},{"t":"2003-04-08T02:10","v":2.47},{"t":"2003-04-08T03:35","v":1.98},{"t":"2003-04-08T05:50","v":2.57},{"t":"2003-04-08T08:20","v":2.67},{"t":"2003-04-08T12:00","v":2.57},{"t":"2003-04-08T15:40","v":2.67},{"t":"2003-04-08T19:20","v":2.57},{"t":"2003-04-08T21:50","v":2.67},{"t":"2003-04-09T00:50","v":2.37},{"t":"2003-04-09T08:05","v":2.37},{"t":"2003-04-09T15:25","v":2.37},{"t":"2003-04-09T19:05","v":2.37},{"t":"2003-04-09T22:45","v":2.28},{"t":"2003-04-10T02:20","v":2.37},{"t":"2003-04-10T06:00","v":2.28},{"t":"2003-04-10T09:40","v":2.37},{"t":"2003-04-10T13:20","v":2.28},{"t":"2003-04-10T17:00","v":2.37},{"t":"2003-04-10T20:40","v":2.22},{"t":"2003-04-10T23:35","v":2.18},{"t":"2003-04-11T01:00","v":1.83},{"t":"2003-04-11T03:55","v":2.28},{"t":"2003-04-11T07:35","v":2.28},{"t":"2003-04-11T11:15","v":2.37},{"t":"2003-04-11T14:50","v":2.47},{"t":"2003-04-11T18:30","v":2.41},{"t":"2003-04-11T22:10","v":2.37},{"t":"2003-04-12T01:50","v":2.37},{"t":"2003-04-12T05:30","v":2.34},{"t":"2003-04-12T09:10","v":2.41},{"t":"2003-04-12T12:45","v":2.37},{"t":"2003-04-12T15:40","v":2.28},{"t":"2003-04-12T17:10","v":1.94},{"t":"2003-04-12T19:20","v":2.47},{"t":"2003-04-12T21:55","v":2.47},{"t":"2003-04-13T01:35","v":2.28},{"t":"2003-04-13T05:15","v":2.28},{"t":"2003-04-13T08:50","v":2.37},{"t":"2003-04-13T12:30","v":2.41},{"t":"2003-04-13T16:10","v":2.47},{"t":"2003-04-13T19:50","v":2.37},{"t":"2003-04-13T23:30","v":2.47},{"t":"2003-04-14T03:10","v":2.47},{"t":"2003-04-14T06:50","v":2.53},{"t":"2003-04-14T10:25","v":2.57},{"t":"2003-04-14T14:05","v":2.61},{"t":"2003-04-14T17:45","v":2.57},{"t":"2003-04-14T19:35","v":2.18},{"t":"2003-04-14T21:25","v":2.61},{"t":"2003-04-15T01:05","v":2.67},{"t":"2003-04-15T04:45","v":2.61},{"t":"2003-04-15T08:20","v":2.57},{"t":"2003-04-15T10:10","v":2.37},{"t":"2003-04-15T13:50","v":2.28},{"t":"2003-04-15T16:45","v":2.37},{"t":"2003-04-15T19:20","v":2.67},{"t":"2003-04-15T23:00","v":2.77},{"t":"2003-04-16T02:40","v":2.81},{"t":"2003-04-16T06:15","v":2.87},{"t":"2003-04-16T09:10","v":3.0},{"t":"2003-04-16T11:45","v":2.87},{"t":"2003-04-16T14:40","v":2.57},{"t":"2003-04-16T19:05","v":2.67},{"t":"2003-04-16T22:45","v":2.81},{"t":"2003-04-17T00:30","v":2.37},{"t":"2003-04-17T02:20","v":2.67},{"t":"2003-04-17T06:00","v":2.77},{"t":"2003-04-17T08:55","v":2.92},{"t":"2003-04-17T11:30","v":2.67},{"t":"2003-04-17T15:05","v":2.67},{"t":"2003-04-17T20:35","v":2.61},{"t":"2003-04-18T02:05","v":2.61},{"t":"2003-04-18T07:35","v":2.67},{"t":"2003-04-18T13:00","v":2.67},{"t":"2003-04-18T18:30","v":2.73},{"t":"2003-04-19T00:00","v":2.67},{"t":"2003-04-19T03:40","v":2.87},{"t":"2003-04-19T05:30","v":2.96},{"t":"2003-04-19T07:20","v":2.57},{"t":"2003-04-19T10:55","v":2.61},{"t":"2003-04-19T14:35","v":2.53},{"t":"2003-04-19T18:15","v":2.57},{"t":"2003-04-19T20:50","v":2.35}
]
},
"encoding":{
"x":{"field":"t","type":"temporal","scale":{"domain":[{"year":2003,"month":4,"date":1},{"year":2003,"month":4,"date":21}]},
"axis":{"title":null,"values":[{"year":2003,"month":4,"date":1},{"year":2003,"month":4,"date":5},{"year":2003,"month":4,"date":9},{"year":2003,"month":4,"date":13},{"year":2003,"month":4,"date":17},{"year":2003,"month":4,"date":21}],"format":"%d.%m.%Y","grid":false,"tickSize":12,"tickWidth":1.5,"tickColor":"black","labelPadding":22,"labelFont":"Liberation Sans","labelFontSize":35,"labelColor":"black","labelFlush":false,"labelOverlap":false,"domainColor":"black","domainWidth":3}},
"y":{"field":"v","type":"quantitative","scale":{"domain":[0,50]},
"axis":{"title":"concentration [vol% dry]","values":[0,5,10,15,20,25,30,35,40,45,50],"grid":true,"gridColor":"#333333","gridWidth":1.3,"tickSize":11,"tickWidth":1.5,"tickColor":"black","labelPadding":16,"labelFont":"Liberation Sans","labelFontSize":35,"labelColor":"black","domainColor":"black","domainWidth":2,"titleFont":"Liberation Sans","titleFontSize":36,"titleFontWeight":"bold","titleColor":"black","titlePadding":43}}
},
"layer":[
{"data":{"name":"H2"},"mark":{"type":"line","strokeWidth":4,"strokeJoin":"round","strokeCap":"round"},
"encoding":{"color":{"datum":"H2","type":"nominal","scale":{"domain":["H2","CO","CO2","CH4","C2H4"],"range":["#0000FF","#FF0000","#008000","#000000","#FF00FF"]},
"legend":{"orient":"none","legendX":-155.5,"legendY":-71,"direction":"horizontal","columns":5,"title":" ","titleOrient":"left","titleFontSize":11,"titlePadding":100,"symbolType":"stroke","symbolSize":1681,"symbolStrokeWidth":4,"labelFont":"Liberation Sans","labelFontSize":34,"labelColor":"black","labelOffset":7,"labelLimit":400,"columnPadding":209,"padding":3,"strokeColor":"#666666","fillColor":"white","labelExpr":"datum.label == 'C2H4' ? 'C2H4\u2800\u2800\u00a0\u2800\u2800' : datum.label"}}}},
{"data":{"name":"CO"},"mark":{"type":"line","strokeWidth":4,"strokeJoin":"round","strokeCap":"round"},"encoding":{"color":{"datum":"CO","type":"nominal"}}},
{"data":{"name":"CO2"},"mark":{"type":"line","strokeWidth":4,"strokeJoin":"round","strokeCap":"round"},"encoding":{"color":{"datum":"CO2","type":"nominal"}}},
{"data":{"name":"CH4"},"mark":{"type":"line","strokeWidth":4,"strokeJoin":"round","strokeCap":"round"},"encoding":{"color":{"datum":"CH4","type":"nominal"}}},
{"data":{"name":"C2H4"},"mark":{"type":"line","strokeWidth":3.5,"strokeJoin":"round","strokeCap":"round"},"encoding":{"color":{"datum":"C2H4","type":"nominal"}}}
]
}
